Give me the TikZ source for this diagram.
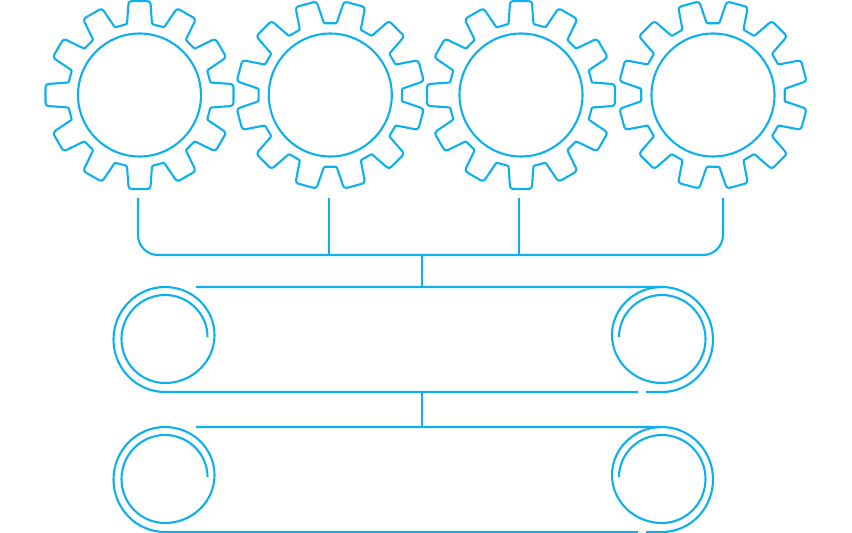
\documentclass[tikz,border=0pt]{standalone}
\definecolor{linec}{HTML}{0DB0EE}
\tikzset{
  ln/.style={draw=linec,line width=2.1pt,line cap=butt,line join=round},
}
\newcommand{\gearshape}[3]{%
  \draw[ln,shift={(#3)}] (#2-10:72)
    \foreach \k in {0,30,...,330}{
      [rounded corners=3pt] -- ({#2+\k-6.6}:94.6) -- ({#2+\k+6.6}:94.6)
      [rounded corners=1pt] -- ({#2+\k+10}:72) -- ({#2+\k+20}:72)
    } -- cycle;
  \draw[ln] (#3) circle[radius=61.5pt];
}
\newcommand{\beltshape}[1]{%
  \begin{scope}[shift={(0,#1)}]
    \draw[ln] (638,392) -- (165,392)
      arc[start angle=-90,end angle=-270,x radius=51.5pt,y radius=52.5pt]
      arc[start angle=90,end angle=-90,x radius=49.5pt,y radius=48pt]
      arc[start angle=-90,end angle=-270,x radius=43.5pt,y radius=44pt]
      arc[start angle=90,end angle=0,x radius=42.5pt,y radius=42pt];
    \draw[ln] (196,287) -- (662,287)
      arc[start angle=90,end angle=-90,x radius=51pt,y radius=52.5pt] -- (646,392);
    \draw[ln] (619,337)
      arc[start angle=180,end angle=90,x radius=43pt,y radius=42pt]
      arc[start angle=90,end angle=-90,x radius=43.5pt,y radius=44pt]
      arc[start angle=-90,end angle=-270,x radius=50pt,y radius=48pt];
  \end{scope}
}
\begin{document}
\begin{tikzpicture}[x=1pt,y=-1pt]
\useasboundingbox (0,0) rectangle (852,533);
\coordinate (c1) at (139.5,95);
\coordinate (c2) at (330.3,95);
\coordinate (c3) at (521,95);
\coordinate (c4) at (713,95);
\gearshape{g1}{0}{c1}
\gearshape{g2}{15}{c2}
\gearshape{g3}{0}{c3}
\gearshape{g4}{15}{c4}
% bus
\coordinate (b1) at (138,198);
\coordinate (b2) at (328.9,198);
\coordinate (b3) at (518.9,198);
\coordinate (b4) at (723,198);
\coordinate (busl) at (138,255);
\coordinate (busr) at (723,255);
\coordinate (busb2) at (328.9,255);
\coordinate (busb3) at (518.9,255);
\coordinate (busm) at (422,255);
\coordinate (belt1top) at (422,287);
\coordinate (belt1bot) at (422,392);
\coordinate (belt2top) at (422,427);
\draw[ln,rounded corners=20pt] (b1) -- (busl) -- (busr) -- (b4);
\draw[ln] (b2) -- (busb2);
\draw[ln] (b3) -- (busb3);
\draw[ln] (busm) -- (belt1top);
\draw[ln] (belt1bot) -- (belt2top);
\beltshape{0}
\beltshape{140}
\end{tikzpicture}
\end{document}
